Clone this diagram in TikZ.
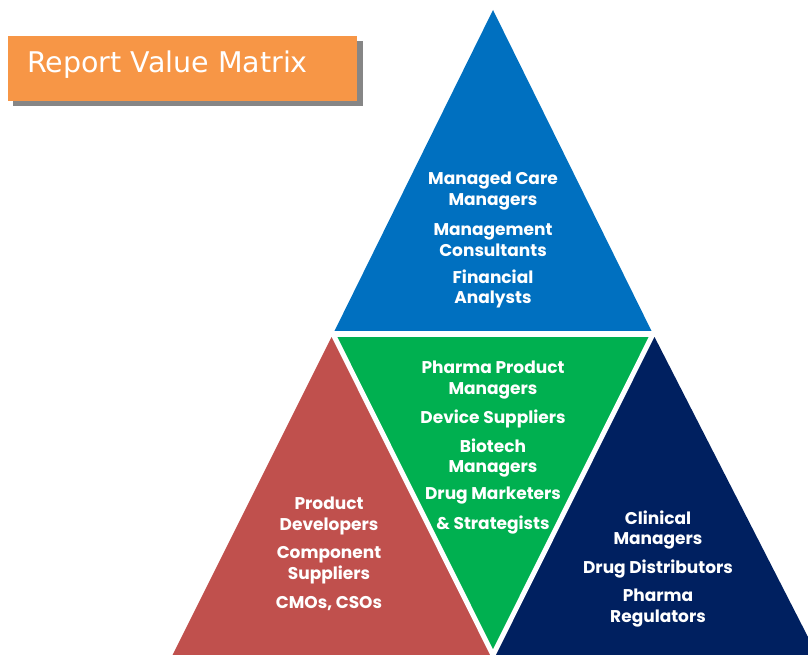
\documentclass[tikz,border=0pt]{standalone}
\usepackage{fontspec}
\usetikzlibrary{calc}
\setmainfont{Poppins}
\newfontfamily\titlefont{DejaVu Sans}
\definecolor{tblue}{HTML}{0070C0}
\definecolor{tgreen}{HTML}{00B050}
\definecolor{tred}{HTML}{C0504D}
\definecolor{tnavy}{HTML}{002060}
\definecolor{torange}{HTML}{F79646}
\begin{document}
\begin{tikzpicture}[x=1pt,y=-1pt,
  lbl/.style={text=white,font=\fontsize{17}{20.5}\selectfont\bfseries,align=center,inner sep=0pt}]
\useasboundingbox (0,0) rectangle (808,655);
\begin{scope}
\clip (0,0) rectangle (808,655);
\coordinate (A) at (493,10);
\coordinate (B) at (333,334);
\coordinate (C) at (653,334);
\coordinate (D) at (493,655);
\fill[tblue] (A) -- (B) -- (C) -- cycle;
\fill[tred] (B) -- (160,680) -- ($(B)!1.2!(D)$) -- cycle;
\fill[tgreen] (B) -- (C) -- (D) -- cycle;
\fill[tnavy] (C) -- ($(C)!1.2!(D)$) -- (830,680) -- cycle;
\draw[white,line width=6pt] (300,334) -- (700,334);
\draw[white,line width=5pt] (B) -- ($(B)!1.2!(D)$);
\draw[white,line width=5pt] (C) -- ($(C)!1.2!(D)$);
\end{scope}
% title
\fill[gray!95!black,opacity=0.9] (13,41) rectangle (363,106);
\fill[torange] (8,36) rectangle (357,101);
\node[anchor=west,text=white,font=\titlefont\fontsize{28.5}{30}\selectfont,inner sep=0pt] (title) at (27,65) {Report Value Matrix};
% blue
\node[lbl] (b1) at (493,191) {Managed Care\\Managers};
\node[lbl] (b2) at (493,240) {Management\\Consultants};
\node[lbl] (b3) at (493,289) {Financial\\Analysts};
% green
\node[lbl] (g1) at (493,380) {Pharma Product\\Managers};
\node[lbl] (g2) at (493,419) {Device Suppliers};
\node[lbl] (g3) at (493,458) {Biotech\\Managers};
\node[lbl] (g4) at (493,496) {Drug Marketers};
\node[lbl] (g5) at (493,525) {\& Strategists};
% red
\node[lbl] (r1) at (329,516) {Product\\Developers};
\node[lbl] (r2) at (329,565) {Component\\Suppliers};
\node[lbl] (r3) at (329,604) {CMOs, CSOs};
% navy
\node[lbl] (n1) at (658,530) {Clinical\\Managers};
\node[lbl] (n2) at (658,569) {Drug Distributors};
\node[lbl] (n3) at (658,608) {Pharma\\Regulators};
\end{tikzpicture}
\end{document}
